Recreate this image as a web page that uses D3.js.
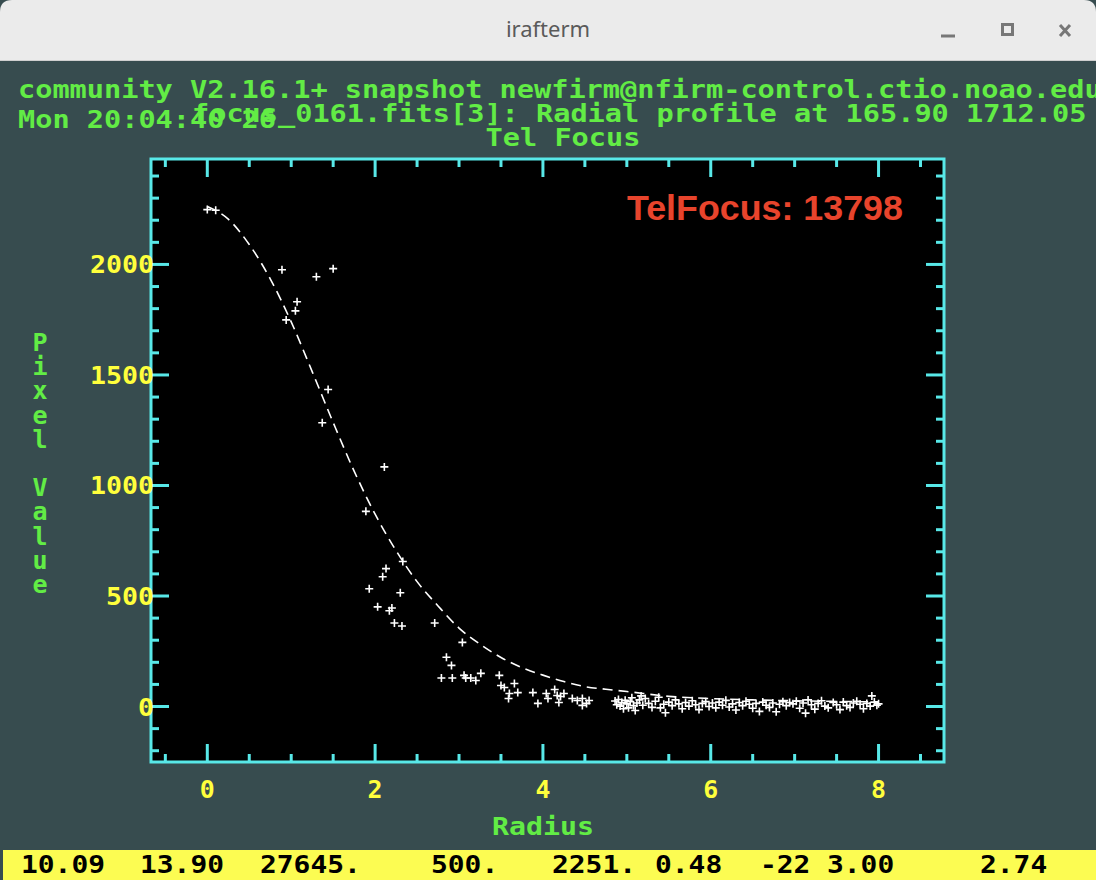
<!DOCTYPE html>
<html>
<head>
<meta charset="utf-8">
<script src="https://cdn.jsdelivr.net/npm/d3@7"></script>
<style>
  body { margin: 0; background: #374c4f; }
  svg { display: block; }
</style>
</head>
<body>
<div id="chart"></div>
<script>
// fitted radial profile (dashed curve)
const fitRadius = [0.0, 0.25, 0.5, 0.75, 1.0, 1.25, 1.5, 1.75, 2.0, 2.25, 2.5, 2.75, 3.0, 3.25, 3.5, 3.75, 4.0, 4.25, 4.5, 4.75, 5.0, 5.5, 6.0, 6.5, 7.0, 7.5, 8.0];
const fitValue = [2262, 2205, 2090, 1935, 1740, 1515, 1285, 1065, 870, 705, 565, 455, 355, 282, 222, 176, 142, 113, 90, 78, 68, 46, 36, 30, 26, 23, 21];

// measured pixels
const pixRadius = [
  0.0, 0.1, 0.89, 1.30, 1.50, 1.07, 1.05, 0.94, 1.44, 1.37, 2.11,
  1.89, 2.33, 2.13, 2.09, 1.93, 2.30, 2.03, 2.20, 2.17, 2.23, 2.32, 2.71,
  3.04, 2.85, 2.91, 2.79, 2.92, 3.06, 3.08, 3.14, 3.20, 3.26, 3.48, 3.50, 3.54, 3.66, 3.70, 3.60, 3.59,
  3.88, 3.94, 4.04, 4.06, 4.14, 4.17, 4.19, 4.21, 4.25, 4.35, 4.41, 4.47, 4.47, 4.55, 4.52,
  4.86, 4.88, 4.90, 4.92, 4.94, 4.96, 4.98, 5.00, 5.02, 5.04, 5.06, 5.08, 5.10, 5.12, 5.15, 5.17, 5.19,
  5.22, 5.26, 5.30, 5.34, 5.38, 5.40, 5.44, 5.46, 5.50, 5.54, 5.58, 5.62, 5.66, 5.70, 5.74, 5.78, 5.82,
  5.86, 5.90, 5.94, 5.98, 6.02, 6.06, 6.10, 6.14, 6.18, 6.22, 6.26, 6.30, 6.34, 6.38, 6.42, 6.46, 6.50,
  6.54, 6.58, 6.62, 6.66, 6.70, 6.74, 6.78, 6.82, 6.86, 6.90, 6.94, 6.98, 7.02, 7.06, 7.10, 7.13, 7.16,
  7.20, 7.24, 7.28, 7.32, 7.36, 7.40, 7.46, 7.50, 7.54, 7.58, 7.62, 7.66, 7.70, 7.74, 7.78, 7.82, 7.86,
  7.90, 7.92, 7.95, 7.98, 8.00
];
const pixValue = [
  2248, 2245, 1976, 1944, 1981, 1831, 1790, 1749, 1434, 1284, 1084,
  883, 656, 624, 587, 533, 515, 451, 446, 433, 378, 364, 378,
  290, 223, 186, 129, 129, 141, 129, 129, 118, 150, 141, 95, 86, 104, 63, 59, 36,
  63, 14, 59, 36, 77, 50, 18, 45, 59, 36, 27, 36, 5, 27, 14,
  25, 8, 32, 2, 18, -10, 28, 12, -6, 22, 40, 4, -18, 16, 30, 48, 6,
  36, 14, -4, 24, 42, -6, 10, -28, 20, 4, 30, 12, -10, 18, 2, 26, 8,
  -14, 14, 22, 0, 16, -6, 20, 6, 28, -2, 12, -16, 18, 4, 24, 10, -8,
  14, -22, 20, 6, -4, 16, -24, 10, 22, 4, 18, 12, 24, -8, 16, -30, 30,
  8, -12, 14, 26, 2, -6, 18, 8, -14, 20, 4, -4, 16, 24, 10, -10, 14,
  2, 48, 20, 6, 12
];

const xMajor = [0, 2, 4, 6, 8];
const yMajor = [0, 500, 1000, 1500, 2000];

const headerLines = [
  "community V2.16.1+ snapshot newfirm@nfirm-control.ctio.noao.edu",
  "Mon 20:04:40 26",
  "focus_0161.fits[3]: Radial profile at 165.90 1712.05",
  "Tel Focus"
];
const statusFields = ["10.09", "13.90", "27645.", "500.", "2251.", "0.48", "-22", "3.00", "2.74"];
const statusX = [21, 140, 260, 431, 552, 655, 760, 827, 980];
const focusLabel = "TelFocus: 13798";

const W = 1096, H = 880;
const green = "#62ec45", yellow = "#ffff3c", cyan = "#58e8e8";
const mono = "'DejaVu Sans Mono', 'Liberation Mono', monospace";
const CW = 17.2; // IRAF char cell width

const svg = d3.select("#chart").append("svg")
  .attr("width", W).attr("height", H);

svg.append("rect").attr("width", W).attr("height", H).attr("fill", "#374c4f");

// window title bar
svg.append("path")
  .attr("d", "M0,60 L0,12 Q0,0 12,0 L1084,0 Q1096,0 1096,12 L1096,60 Z")
  .attr("fill", "#ebebeb");
svg.append("line").attr("x1", 0).attr("x2", W).attr("y1", 60.5).attr("y2", 60.5)
  .attr("stroke", "#cfcfcf");
svg.append("text").attr("x", 548).attr("y", 37).attr("text-anchor", "middle")
  .attr("font-family", "'Noto Sans', 'DejaVu Sans', sans-serif").attr("font-size", 22)
  .attr("fill", "#5a5a5a").text("irafterm");
svg.append("line").attr("x1", 941).attr("x2", 955).attr("y1", 36).attr("y2", 36)
  .attr("stroke", "#777").attr("stroke-width", 3);
svg.append("rect").attr("x", 1002.5).attr("y", 24.5).attr("width", 10).attr("height", 10)
  .attr("fill", "none").attr("stroke", "#777").attr("stroke-width", 3);
svg.append("path").attr("d", "M1060,25 L1070,36 M1070,25 L1060,36")
  .attr("stroke", "#777").attr("stroke-width", 3);

// header text
const monoText = (str, x, y, color, anchor) => svg.append("text")
  .attr("x", x).attr("y", y)
  .attr("text-anchor", anchor || "start")
  .attr("font-family", mono).attr("font-size", 25).attr("font-weight", "bold")
  .attr("fill", color)
  .attr("textLength", str.length * CW)
  .attr("lengthAdjust", "spacingAndGlyphs")
  .style("white-space", "pre")
  .text(str);

monoText(headerLines[0], 18, 98, green);
monoText(headerLines[1], 18, 128, green);
monoText(headerLines[2], 192, 122, green);
monoText(headerLines[3], 563, 146, green, "middle");

// plot area
const x0 = 151, x1 = 944, y0 = 159, y1 = 762;
const x = d3.scaleLinear().domain([-0.671, 8.78]).range([x0, x1]);
const y = d3.scaleLinear().domain([-251, 2477]).range([y1, y0]);

svg.append("rect").attr("x", x0).attr("y", y0).attr("width", x1 - x0).attr("height", y1 - y0)
  .attr("fill", "#000");

const xMinor = d3.range(-0.5, 8.51, 0.5).filter(v => !xMajor.includes(v));
const yMinor = d3.range(-200, 2401, 100).filter(v => !yMajor.includes(v));

const ticks = svg.append("g").attr("stroke", cyan).attr("stroke-width", 3);
const tickLen = v => v ? 18 : 8;
[[xMajor, true], [xMinor, false]].forEach(([vals, major]) => {
  ticks.selectAll(null).data(vals).enter().append("line")
    .attr("x1", d => x(d)).attr("x2", d => x(d))
    .attr("y1", y1).attr("y2", y1 - tickLen(major));
  ticks.selectAll(null).data(vals).enter().append("line")
    .attr("x1", d => x(d)).attr("x2", d => x(d))
    .attr("y1", y0).attr("y2", y0 + tickLen(major));
});
[[yMajor, true], [yMinor, false]].forEach(([vals, major]) => {
  ticks.selectAll(null).data(vals).enter().append("line")
    .attr("y1", d => y(d)).attr("y2", d => y(d))
    .attr("x1", x0).attr("x2", x0 + tickLen(major));
  ticks.selectAll(null).data(vals).enter().append("line")
    .attr("y1", d => y(d)).attr("y2", d => y(d))
    .attr("x1", x1).attr("x2", x1 - tickLen(major));
});

svg.append("rect").attr("x", x0).attr("y", y0).attr("width", x1 - x0).attr("height", y1 - y0)
  .attr("fill", "none").attr("stroke", cyan).attr("stroke-width", 3);

// tick labels
xMajor.forEach(v => monoText(String(v), x(v), 798, yellow, "middle").attr("textLength", String(v).length * 15));
yMajor.forEach(v => monoText(String(v), 154, y(v) + 9, yellow, "end").attr("textLength", String(v).length * 16));

// axis titles
monoText("Radius", 543, 835, green, "middle").attr("textLength", 6 * 17);
const yTitle = "Pixel Value";
yTitle.split("").forEach((ch, i) => {
  if (ch !== " ") monoText(ch, 40, 351 + i * 24.2, green, "middle").attr("textLength", null);
});

// fitted curve
const fitPts = fitRadius.map((r, i) => [r, fitValue[i]]);
const line = d3.line().x(d => x(d[0])).y(d => y(d[1])).curve(d3.curveMonotoneX);
svg.append("path").datum(fitPts)
  .attr("d", line)
  .attr("fill", "none").attr("stroke", "#fff").attr("stroke-width", 1.6)
  .attr("stroke-dasharray", "10,6");

// data points as + markers
const pts = pixRadius.map((r, i) => [r, pixValue[i]]);
svg.append("g").selectAll("path").data(pts).enter().append("path")
  .attr("d", d => {
    const px = x(d[0]), py = y(d[1]);
    return `M${px - 4},${py} L${px + 4},${py} M${px},${py - 4} L${px},${py + 4}`;
  })
  .attr("stroke", "#fff").attr("stroke-width", 1.6);

// red focus label
svg.append("text").attr("x", 627).attr("y", 220)
  .attr("font-family", "'Liberation Sans', Arial, sans-serif").attr("font-weight", "bold")
  .attr("font-size", 35.8).attr("fill", "#e8442c")
  .text(focusLabel);

// status line
svg.append("rect").attr("x", 3).attr("y", 850).attr("width", W - 3).attr("height", 30)
  .attr("fill", "#fcfc52");
statusFields.forEach((s, i) => {
  monoText(s, statusX[i], 873, "#000").attr("textLength", s.length * 16.8);
});
</script>
</body>
</html>
